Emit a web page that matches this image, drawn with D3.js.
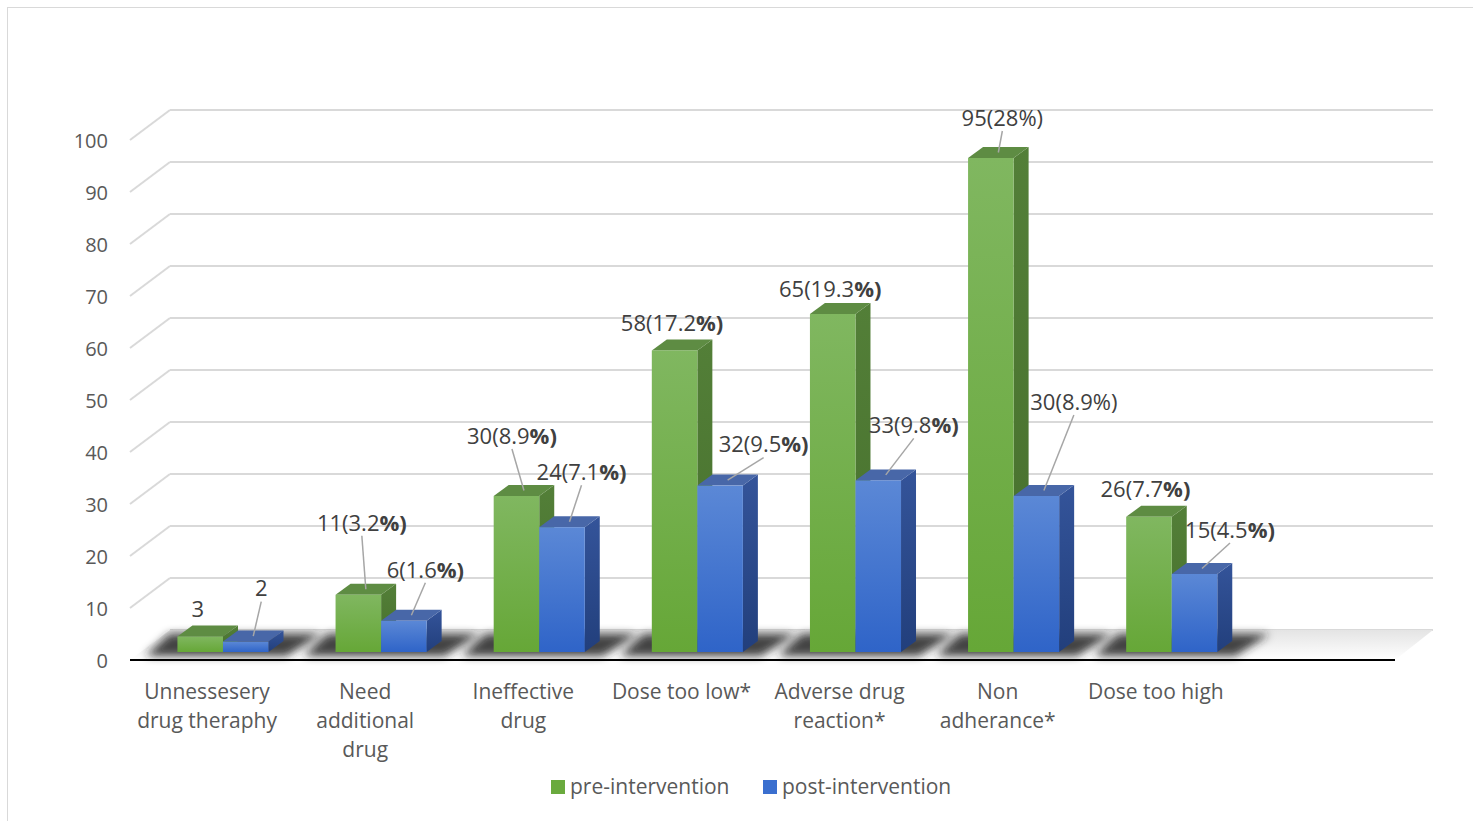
<!DOCTYPE html>
<html>
<head>
<meta charset="utf-8">
<script src="https://cdn.jsdelivr.net/npm/d3@7"></script>
<style>
  body { margin: 0; background: #fff; }
  text { font-family: "Open Sans", sans-serif; }
</style>
</head>
<body>
<div id="chart"></div>
<script>
// data
var categories = ["Unnessesery\ndrug theraphy", "Need\nadditional\ndrug", "Ineffective\ndrug", "Dose too low*", "Adverse drug\nreaction*", "Non\nadherance*", "Dose too high"];
var preValues = [3, 11, 30, 58, 65, 95, 26];
var postValues = [2, 6, 24, 32, 33, 30, 15];
var preLabels = ["3", "11(3.2%)", "30(8.9%)", "58(17.2%)", "65(19.3%)", "95(28%)", "26(7.7%)"];
var postLabels = ["2", "6(1.6%)", "24(7.1%)", "32(9.5%)", "33(9.8%)", "30(8.9%)", "15(4.5%)"];
var seriesNames = ["pre-intervention", "post-intervention"];
var yTicks = [0, 10, 20, 30, 40, 50, 60, 70, 80, 90, 100];

// label placement relative to bar top (layout only): [dx, dy, leader?, bold %?]
var preLabelPos = [[-10, -27, 0, 0], [-4, -72, 1, 1], [-12, -60, 1, 1], [-10, -27, 0, 1], [-10, -25, 0, 1], [4, -40, 1, 0], [-11, -28, 0, 1]];
var postLabelPos = [[8, -53, 1, 0], [14, -51, 1, 1], [12, -55, 1, 1], [36, -41, 1, 1], [28, -55, 1, 1], [30, -94, 1, 0], [28, -44, 1, 1]];

var W = 1473, H = 821;
var svg = d3.select('#chart').append('svg')
  .attr('width', W).attr('height', H);

// border
svg.append('rect').attr('x', 7.5).attr('y', 7.5).attr('width', W + 10).attr('height', H + 10)
  .attr('fill', 'none').attr('stroke', '#d9d9d9');

var x = d3.scaleBand().domain(d3.range(8)).range([130, 1395]).padding(0);
var y = d3.scaleLinear().domain([0, 100]).range([660, 140]);
var depthX = 40, depthY = -30;   // floor depth
var barDY = -8;                  // bars sit a bit behind the front edge
var sideX = 15, sideY = -11;     // bar depth

var defs = svg.append('defs');
defs.append('filter').attr('id', 'blur').attr('x', '-30%').attr('y', '-100%').attr('width', '160%').attr('height', '300%')
  .append('feGaussianBlur').attr('stdDeviation', 4);

function grad(id, c1, c2) {
  var g = defs.append('linearGradient').attr('id', id).attr('x1', 0).attr('x2', 0).attr('y1', 0).attr('y2', 1);
  g.append('stop').attr('offset', '0%').attr('stop-color', c1);
  g.append('stop').attr('offset', '100%').attr('stop-color', c2);
}
grad('gFront', '#80b760', '#66a737');
grad('bFront', '#5b88d6', '#2f64c8');
grad('gSide', '#537f38', '#466f2c');
grad('bSide', '#34549a', '#223f7c');
grad('floor', '#e4e4e4', '#ffffff');

// gridlines: back wall + left diagonals
var grid = svg.append('g');
yTicks.forEach(function(t) {
  var yf = y(t);
  if (t > 0) {
    grid.append('line').attr('x1', 130).attr('y1', yf).attr('x2', 130 + depthX).attr('y2', yf + depthY)
      .attr('stroke', '#d9d9d9').attr('stroke-width', 2);
  }
  grid.append('line').attr('x1', 130 + depthX).attr('y1', yf + depthY).attr('x2', 1433).attr('y2', yf + depthY)
    .attr('stroke', '#d9d9d9').attr('stroke-width', 2);
});

// floor
svg.append('polygon')
  .attr('points', [[130, y(0)], [130 + depthX, y(0) + depthY], [1433, y(0) + depthY], [1395, y(0)]].join(' '))
  .attr('fill', 'url(#floor)');

// shadows under bars
var shadow = svg.append('g').attr('filter', 'url(#blur)');
var bw = x.bandwidth() * 0.288;
categories.forEach(function(c, i) {
  var x0 = x(i) + x.bandwidth() * 0.30, x1 = x0 + 2 * bw;
  var yb = y(0) - 4, yt = y(0) + depthY + 4;
  shadow.append('polygon')
    .attr('points', [[x0 - 32, yb], [x0 - 8, yt], [x1 + 52, yt], [x1 + 18, yb]].join(' '))
    .attr('fill', '#262626').attr('opacity', 0.85);
});

// y tick labels
svg.append('g').selectAll('text').data(yTicks).enter().append('text')
  .attr('x', 108).attr('y', function(d) { return y(d) + 1; }).attr('dy', '0.35em')
  .attr('text-anchor', 'end').attr('font-size', 20).attr('fill', '#595959')
  .text(function(d) { return d; });

// bars
function bar(g, x0, v, front, side, top) {
  var yb = y(0) + barDY, yt = y(v) + barDY;
  g.append('polygon').attr('points', [[x0 + bw, yb], [x0 + bw + sideX, yb + sideY], [x0 + bw + sideX, yt + sideY], [x0 + bw, yt]].join(' '))
    .attr('fill', side);
  g.append('polygon').attr('points', [[x0, yt], [x0 + sideX, yt + sideY], [x0 + bw + sideX, yt + sideY], [x0 + bw, yt]].join(' '))
    .attr('fill', top);
  g.append('rect').attr('x', x0).attr('y', yt).attr('width', bw).attr('height', yb - yt).attr('fill', front);
}
var bars = svg.append('g');
categories.forEach(function(c, i) {
  var x0 = x(i) + x.bandwidth() * 0.30;
  var gb = bars.append('g');
  bar(gb, x0, preValues[i], 'url(#gFront)', 'url(#gSide)', '#5e8c43');
  bar(gb, x0 + bw, postValues[i], 'url(#bFront)', 'url(#bSide)', '#4867a8');
});

// x axis line
svg.append('line').attr('x1', 130).attr('x2', 1395).attr('y1', y(0)).attr('y2', y(0))
  .attr('stroke', '#000').attr('stroke-width', 2);

// data labels
var labels = svg.append('g');
function dataLabel(cx, yt, txt, pos) {
  var lx = cx + pos[0], ly = yt + pos[1];
  if (pos[2]) {
    labels.append('line').attr('x1', cx).attr('y1', yt + sideY / 2)
      .attr('x2', lx).attr('y2', ly + 13)
      .attr('stroke', '#a6a6a6').attr('stroke-width', 1.5);
  }
  var t = labels.append('text').attr('x', lx).attr('y', ly).attr('dy', '0.35em')
    .attr('text-anchor', 'middle').attr('font-size', 22).attr('fill', '#404040');
  var k = txt.indexOf('%');
  if (pos[3] && k > 0) {
    t.append('tspan').text(txt.slice(0, k));
    t.append('tspan').attr('font-weight', 'bold').text(txt.slice(k));
  } else {
    t.text(txt);
  }
}
categories.forEach(function(c, i) {
  var x0 = x(i) + x.bandwidth() * 0.30;
  dataLabel(x0 + bw / 2 + sideX / 2, y(preValues[i]) + barDY, preLabels[i], preLabelPos[i]);
  dataLabel(x0 + bw * 1.5 + sideX / 2, y(postValues[i]) + barDY, postLabels[i], postLabelPos[i]);
});

// category labels
var cat = svg.append('g');
categories.forEach(function(c, i) {
  var cx = x(i) + x.bandwidth() / 2 - 2;
  var t = cat.append('text').attr('x', cx).attr('y', 692)
    .attr('text-anchor', 'middle').attr('font-size', 21).attr('fill', '#595959');
  c.split('\n').forEach(function(line, k) {
    t.append('tspan').attr('x', cx).attr('dy', k === 0 ? '0.35em' : 29).text(line);
  });
});

// legend
var legend = svg.append('g');
var legendX = [551, 763];
var colors = ['#6aaa3e', '#3a6fcf'];
seriesNames.forEach(function(s, i) {
  legend.append('rect').attr('x', legendX[i]).attr('y', 780).attr('width', 14).attr('height', 14).attr('fill', colors[i]);
  legend.append('text').attr('x', legendX[i] + 19).attr('y', 787).attr('dy', '0.35em')
    .attr('font-size', 21).attr('fill', '#595959').text(s);
});
</script>
</body>
</html>
